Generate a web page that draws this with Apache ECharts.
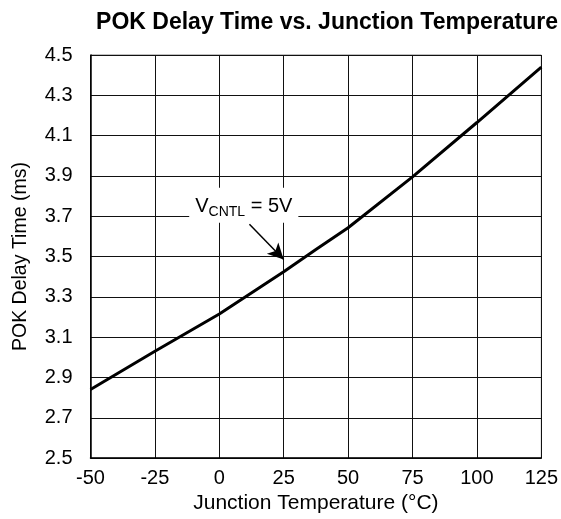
<!DOCTYPE html>
<html>
<head>
<meta charset="utf-8">
<script src="https://cdn.jsdelivr.net/npm/echarts@6/dist/echarts.min.js"></script>
<style>html,body{margin:0;padding:0;background:#fff}#c{width:561px;height:519px}</style>
</head>
<body>
<div id="c"></div>
<script>
var temps = [-50, -25, 0, 25, 37.5, 50, 75, 100, 125];
var delays = [2.84, 3.03, 3.215, 3.425, 3.535, 3.643, 3.895, 4.165, 4.44];
var xTicks = [-50, -25, 0, 25, 50, 75, 100, 125];
var yTicks = [2.5, 2.7, 2.9, 3.1, 3.3, 3.5, 3.7, 3.9, 4.1, 4.3, 4.5];
var labelPos = [9.5, 3.755];
var arrowFrom = [11.7, 3.66];
var arrowTo = [25, 3.485];

var chart = echarts.init(document.getElementById('c'));
var F = 'Liberation Sans, Arial, sans-serif';
chart.setOption({
  animation: false,
  title: {
    text: 'POK Delay Time vs. Junction Temperature',
    left: 322, top: 6, textAlign: 'center',
    textStyle: {fontFamily: F, fontSize: 23, fontWeight: 'bold', color: '#000'}
  },
  grid: {left: 90.5, right: 18, top: 55, bottom: 60, show: true, borderColor: '#808080', borderWidth: 1},
  xAxis: {
    type: 'value', min: xTicks[0], max: xTicks[xTicks.length - 1], interval: 25,
    name: 'Junction Temperature (°C)', nameLocation: 'middle', nameGap: 27,
    nameTextStyle: {fontFamily: F, fontSize: 21, color: '#000'},
    axisLine: {show: true, onZero: false, lineStyle: {color: '#000', width: 1.5}},
    axisTick: {show: false},
    axisLabel: {fontFamily: F, fontSize: 20, color: '#000', margin: 10},
    splitLine: {show: true, lineStyle: {color: '#111', width: 1}}
  },
  yAxis: {
    type: 'value', min: yTicks[0], max: yTicks[yTicks.length - 1], interval: 0.2,
    name: 'POK Delay Time (ms)', nameLocation: 'middle', nameGap: 60,
    nameTextStyle: {fontFamily: F, fontSize: 19.5, color: '#000'},
    axisLine: {show: true, onZero: false, lineStyle: {color: '#000', width: 1.5}},
    axisTick: {show: false},
    axisLabel: {fontFamily: F, fontSize: 20, color: '#000', margin: 18,
      formatter: function (v) { return v.toFixed(1); }},
    splitLine: {show: true, lineStyle: {color: '#111', width: 1}}
  },
  series: [
    {
      type: 'line', data: temps.map(function (t, i) { return [t, delays[i]]; }),
      showSymbol: false, lineStyle: {color: '#000', width: 3}, z: 5,
      markLine: {
        silent: true, symbol: ['none', 'arrow'], symbolSize: [12, 16],
        lineStyle: {color: '#000', width: 1.5, type: 'solid'},
        label: {show: false},
        data: [[{coord: arrowFrom}, {coord: arrowTo}]]
      },
      markPoint: {
        silent: true, symbol: 'rect', symbolSize: 0,
        data: [{coord: labelPos, value: ''}],
        label: {
          show: true, position: 'inside',
          backgroundColor: '#fff', padding: [6, 6, 4, 6],
          formatter: '{v|V}{s|CNTL}{v| = 5V}',
          rich: {
            v: {fontFamily: F, fontSize: 20, color: '#000'},
            s: {fontFamily: F, fontSize: 14, color: '#000', verticalAlign: 'bottom', padding: [11, 0, 0, 0]}
          }
        }
      }
    }
  ]
});
</script>
</body>
</html>
